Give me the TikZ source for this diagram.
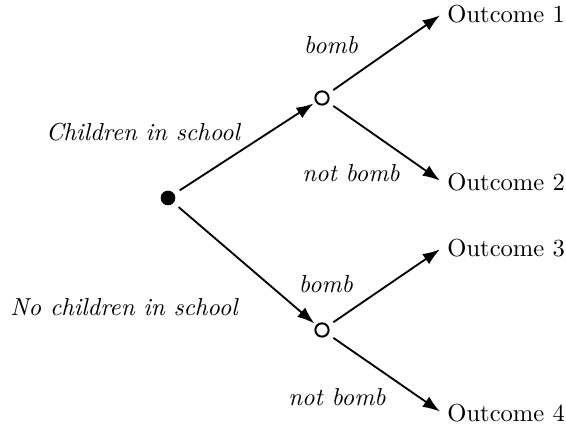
\documentclass[tikz,border=0pt]{standalone}
\usepackage{tikz}
\usetikzlibrary{arrows.meta,positioning}

\begin{document}
\begin{tikzpicture}[x=0.0143cm,y=-0.0143cm]

% --- STYLES ---
\tikzset{
  chance/.style={circle, draw=black, fill=white, line width=0.8pt,
                 minimum size=0.19cm, inner sep=0pt},
  root/.style={circle, fill=black, minimum size=0.21cm, inner sep=0pt},
  outcome/.style={anchor=west, font=\normalsize, inner sep=2pt},
  branchlabel/.style={font=\itshape},
  branch/.style={line width=0.75pt, -{Latex[length=7pt, width=5pt]},
                 shorten <=2.5pt, shorten >=1pt},
}

\useasboundingbox (0,0) rectangle (566,427);

% ================= DECISION NODES =================
\node[root]   (r)  at (168,198) {};
\node[chance] (c1) at (322, 98) {};
\node[chance] (c2) at (322,330) {};

% ================= OUTCOMES =================
\node[outcome] (o1) at (442, 14) {Outcome 1};
\node[outcome] (o2) at (442,182) {Outcome 2};
\node[outcome] (o3) at (442,248) {Outcome 3};
\node[outcome] (o4) at (442,413) {Outcome 4};

% ================= BRANCHES =================
\draw[branch] (r) -- (c1);
\draw[branch] (r) -- (c2);
\draw[branch] (c1) -- (o1.west);
\draw[branch] (c1) -- (o2.west);
\draw[branch] (c2) -- (o3.west);
\draw[branch] (c2) -- (o4.west);

% ================= LABELS =================
\node[branchlabel] (l1) at (143,132) {Children in school};
\node[branchlabel] (l2) at (124,307) {No children in school};
\node[branchlabel] (l3) at (331, 45) {bomb};
\node[branchlabel] (l4) at (351,173) {not bomb};
\node[branchlabel] (l5) at (326,284) {bomb};
\node[branchlabel] (l6) at (337,397) {not bomb};

\end{tikzpicture}
\end{document}
